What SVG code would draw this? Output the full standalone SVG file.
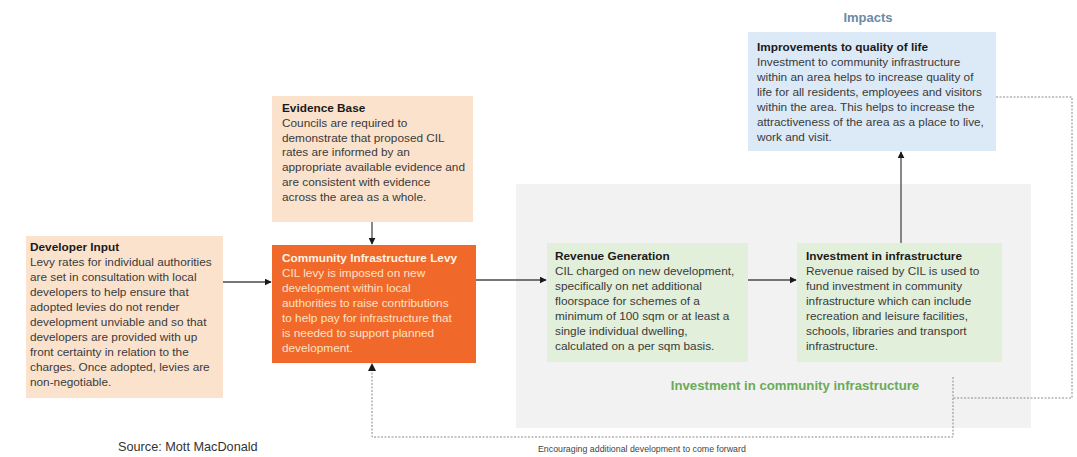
<svg xmlns="http://www.w3.org/2000/svg" width="1077" height="457" viewBox="0 0 1077 457">
<defs>
<style>
.t{font-family:"Liberation Sans",Arial,sans-serif;font-size:11.8px;fill:#3a3a3a}
.b{font-weight:bold;fill:#1a1a1a}
.ct{font-family:"Liberation Sans",Arial,sans-serif;font-size:11.8px;fill:#fde2c6}
.cb{font-weight:bold;fill:#fff4e4}
.ln{stroke:#4a4a4a;stroke-width:1.3;fill:none}
.dot{stroke:#8a8a8a;stroke-width:1;stroke-dasharray:2 1.5;fill:none}
</style>
<marker id="ah" viewBox="0 0 10 10" refX="9" refY="5" markerWidth="7" markerHeight="7" orient="auto" markerUnits="userSpaceOnUse">
<path d="M0,0 L10,5 L0,10 z" fill="#1a1a1a"/>
</marker>
</defs>
<rect width="1077" height="457" fill="#ffffff"/>

<g id="panel">
<rect x="516" y="184" width="515" height="244" fill="#f2f2f2"/>
<text x="795" y="390" text-anchor="middle" font-family="Liberation Sans,Arial,sans-serif" font-size="13.2px" font-weight="bold" fill="#6aab58">Investment in community infrastructure</text>
</g>

<g id="connectors">
<line class="ln" x1="372" y1="222" x2="372" y2="244" marker-end="url(#ah)"/>
<line class="ln" x1="223" y1="282" x2="271" y2="282" marker-end="url(#ah)"/>
<line class="ln" x1="476" y1="280" x2="546" y2="280" marker-end="url(#ah)"/>
<line class="ln" x1="748" y1="280" x2="796" y2="280" marker-end="url(#ah)"/>
<line class="ln" x1="901" y1="243" x2="901" y2="152" marker-end="url(#ah)"/>
<polyline class="dot" points="996,97 1072,97 1072,398 953,398"/>
<polyline class="dot" points="953,377 953,437 372,437 372,366"/>
<path d="M368,371 L372,363 L376,371 z" fill="#1a1a1a"/>
</g>

<g id="impacts">
<text x="868" y="22" text-anchor="middle" font-family="Liberation Sans,Arial,sans-serif" font-size="13px" font-weight="bold" fill="#6a8aa6">Impacts</text>
<rect x="748" y="32" width="248" height="119" fill="#dce9f6"/>
<text class="t b" x="757" y="51">Improvements to quality of life</text>
<text class="t" x="757" y="66">Investment to community infrastructure</text>
<text class="t" x="757" y="81">within an area helps to increase quality of</text>
<text class="t" x="757" y="96">life for all residents, employees and visitors</text>
<text class="t" x="757" y="111">within the area. This helps to increase the</text>
<text class="t" x="757" y="126">attractiveness of the area as a place to live,</text>
<text class="t" x="757" y="141">work and visit.</text>
</g>

<g id="evidence">
<rect x="272" y="96" width="201" height="126" fill="#fbe2cd"/>
<text class="t b" x="282" y="112">Evidence Base</text>
<text class="t" x="282" y="127">Councils are required to</text>
<text class="t" x="282" y="141.6">demonstrate that proposed CIL</text>
<text class="t" x="282" y="156.4">rates are informed by an</text>
<text class="t" x="282" y="171.2">appropriate available evidence and</text>
<text class="t" x="282" y="186">are consistent with evidence</text>
<text class="t" x="282" y="200.8">across the area as a whole.</text>
</g>

<g id="developer">
<rect x="26" y="236" width="197" height="162" fill="#fbe2cd"/>
<text class="t b" x="30" y="251">Developer Input</text>
<text class="t" x="30" y="266">Levy rates for individual authorities</text>
<text class="t" x="30" y="281">are set in consultation with local</text>
<text class="t" x="30" y="296">developers to help ensure that</text>
<text class="t" x="30" y="311">adopted levies do not render</text>
<text class="t" x="30" y="326">development unviable and so that</text>
<text class="t" x="30" y="340.5">developers are provided with up</text>
<text class="t" x="30" y="355.5">front certainty in relation to the</text>
<text class="t" x="30" y="370.5">charges. Once adopted, levies are</text>
<text class="t" x="30" y="385.5">non-negotiable.</text>
</g>

<g id="cil">
<rect x="272" y="245" width="204" height="118" fill="#f0692a"/>
<text class="ct cb" x="282" y="262">Community Infrastructure Levy</text>
<text class="ct" x="282" y="277">CIL levy is imposed on new</text>
<text class="ct" x="282" y="292">development within local</text>
<text class="ct" x="282" y="307">authorities to raise contributions</text>
<text class="ct" x="282" y="321.5">to help pay for infrastructure that</text>
<text class="ct" x="282" y="336.5">is needed to support planned</text>
<text class="ct" x="282" y="351.5">development.</text>
</g>

<g id="revenue">
<rect x="547" y="243" width="201" height="119" fill="#e2efda"/>
<text class="t b" x="555" y="260">Revenue Generation</text>
<text class="t" x="555" y="275">CIL charged on new development,</text>
<text class="t" x="555" y="290">specifically on net additional</text>
<text class="t" x="555" y="305">floorspace for schemes of a</text>
<text class="t" x="555" y="320">minimum of 100 sqm or at least a</text>
<text class="t" x="555" y="335">single individual dwelling,</text>
<text class="t" x="555" y="350">calculated on a per sqm basis.</text>
</g>

<g id="investment">
<rect x="797" y="243" width="205" height="119" fill="#e2efda"/>
<text class="t b" x="806" y="260">Investment in infrastructure</text>
<text class="t" x="806" y="275">Revenue raised by CIL is used to</text>
<text class="t" x="806" y="290">fund investment in community</text>
<text class="t" x="806" y="305">infrastructure which can include</text>
<text class="t" x="806" y="320">recreation and leisure facilities,</text>
<text class="t" x="806" y="335">schools, libraries and transport</text>
<text class="t" x="806" y="350">infrastructure.</text>
</g>

<g id="labels">
<text x="118" y="451" font-family="Liberation Sans,Arial,sans-serif" font-size="12.7px" fill="#333333">Source: Mott MacDonald</text>
<text x="538" y="452" font-family="Liberation Sans,Arial,sans-serif" font-size="8.8px" fill="#444444">Encouraging additional development to come forward</text>
</g>
</svg>
